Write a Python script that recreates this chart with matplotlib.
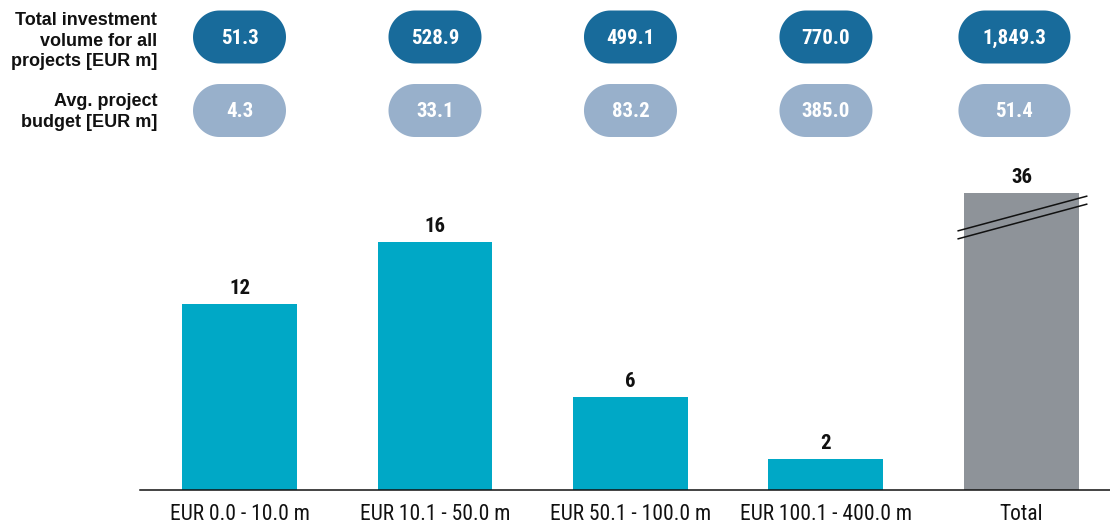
import matplotlib
matplotlib.use("Agg")
import numpy as np
import matplotlib.pyplot as plt
from matplotlib.patches import Polygon

# Project size classes and their counts
categories = ["EUR 0.0 - 10.0 m", "EUR 10.1 - 50.0 m", "EUR 50.1 - 100.0 m",
              "EUR 100.1 - 400.0 m", "Total"]
project_counts = [12, 16, 6, 2, 36]
total_volume = ["51.3", "528.9", "499.1", "770.0", "1,849.3"]
avg_budget = ["4.3", "33.1", "83.2", "385.0", "51.4"]
row_labels = ["Total investment\nvolume for all\nprojects [EUR m]",
              "Avg. project\nbudget [EUR m]"]

NARROW = ["Roboto Condensed", "Archivo Narrow", "Liberation Sans", "DejaVu Sans"]
REGULAR = ["Liberation Sans", "DejaVu Sans"]

TEAL = "#00A8C6"
GREY = "#8E9399"
DARK_BLUE = "#186B9B"
LIGHT_BLUE = "#98B0CB"
INK = "#111111"

W, H = 1110, 528
fig = plt.figure(figsize=(W / 100, H / 100), dpi=100)

# Bar axes: bottom at pixel row 490, top at 193 (the break height)
ax = fig.add_axes([140 / W, 38 / H, 970 / W, 297 / H])
ax.set_xlim(-0.509, 4.453)
ax.set_ylim(0, 297 / 15.5)

x = list(range(len(categories)))
colors = [TEAL] * (len(categories) - 1) + [GREY]
bars = ax.bar(x, project_counts, width=0.588, color=colors, zorder=2)

for spine in ["top", "right", "left"]:
    ax.spines[spine].set_visible(False)
ax.spines["bottom"].set_color(INK)
ax.spines["bottom"].set_linewidth(1.1)
ax.set_yticks([])
ax.set_xticks(x)
ax.set_xticklabels(categories, fontsize=15.5, family=NARROW, color=INK)
ax.tick_params(axis="x", length=0, pad=10)

ylim_top = ax.get_ylim()[1]
for xi, v in zip(x, project_counts):
    shown = min(v, ylim_top)
    ax.annotate(f"{v}", (xi, shown), xytext=(0, 4), textcoords="offset points",
                ha="center", va="bottom", fontsize=15, fontweight="bold",
                family=NARROW, color=INK, annotation_clip=False)

# Overlay axes in pixel units (y grows downward) for pills, row labels and break marks
ov = fig.add_axes([0, 0, 1, 1], zorder=5)
ov.set_xlim(0, W)
ov.set_ylim(H, 0)
ov.axis("off")

fig.canvas.draw()


def px(xd, yd):
    dx, dy = ax.transData.transform((xd, yd))
    return dx, H - dy


def pill_outline(cx, cy, w, h, n=48):
    """Stadium shape: straight top/bottom with semicircular ends."""
    r = h / 2
    right = np.linspace(-np.pi / 2, np.pi / 2, n)
    left = np.linspace(np.pi / 2, 3 * np.pi / 2, n)
    xr = cx + w / 2 - r + r * np.cos(right)
    yr = cy + r * np.sin(right)
    xl = cx - w / 2 + r + r * np.cos(left)
    yl = cy + r * np.sin(left)
    return np.column_stack([np.concatenate([xr, xl]), np.concatenate([yr, yl])])


pill_h = 53
rows = [(total_volume, DARK_BLUE, 37), (avg_budget, LIGHT_BLUE, 110.5)]
for values, color, cy in rows:
    for xi, s in zip(x, values):
        cx, _ = px(xi, 0)
        w = 93
        if xi == x[-1]:
            w = 112
            cx -= 7
        ov.add_patch(Polygon(pill_outline(cx, cy, w, pill_h), closed=True,
                             facecolor=color, edgecolor="none"))
        ov.text(cx, cy + 1, s, ha="center", va="center", fontsize=15,
                fontweight="bold", family=NARROW, color="white")

ov.text(157, 41, row_labels[0], ha="right", va="center", fontsize=13,
        fontweight="bold", family=REGULAR, color=INK, linespacing=1.3)
ov.text(157, 112, row_labels[1], ha="right", va="center", fontsize=13,
        fontweight="bold", family=REGULAR, color=INK, linespacing=1.3)

# Break marks across the truncated total bar
bx, btop = px(x[-1], ylim_top)
for off in (20.5, 28.5):
    ov.plot([bx - 64, bx + 66], [btop + off + 17.5, btop + off - 17.5],
            color=INK, lw=1.1, solid_capstyle="butt")

fig.savefig("out.png", dpi=100)
